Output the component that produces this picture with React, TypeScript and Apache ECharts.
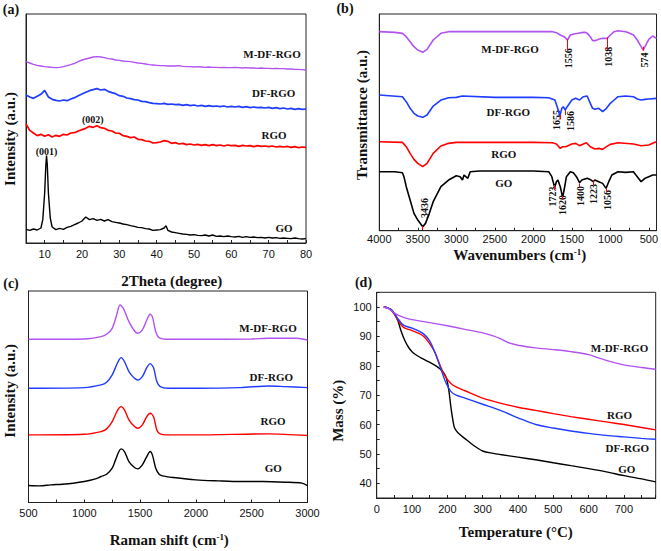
import React, { useEffect, useRef } from 'react';
import * as echarts from 'echarts';

// ---------- (a) XRD ----------
const XRD_X = [5,6,7,8,9,10,11,12,13,14,15,16,17,18,19,20,21,22,23,24,25,26,27,28,29,30,31,32,33,34,35,36,37,38,39,40,41,42,43,44,45,46,47,48,49,50,51,52,53,54,55,56,57,58,59,60,61,62,63,64,65,66,67,68,69,70,71,72,73,74,75,76,77,78,79,80];
const XRD_GO: [number, number][] = [[5,41],[6,38],[7,42],[8,39],[9,45],[9.5,70],[10,150],[10.3,230],[10.5,262],[10.7,235],[11,150],[11.5,75],[12,48],[13,40],[14,44],[15,41],[16,47],[17,50],[18,55],[19,60],[20,66],[21,78],[22,70],[23,73],[24,68],[25,71],[26,66],[27,70],[28,64],[29,62],[30,60],[31,57],[32,55],[33,52],[34,50],[35,47],[36,46],[37,43],[38,42],[39,38],[40,39],[41,40],[42,45],[42.5,52],[43,38],[44,33],[45,31],[46,29],[47,27],[48,26],[49,24],[50,25],[51,23],[52,22],[53,24],[54,21],[55,24],[56,20],[57,21],[58,19],[59,21],[60,19],[61,18],[62,20],[63,17],[64,19],[65,17],[66,18],[67,16],[68,17],[69,15],[70,17],[71,15],[72,16],[73,14],[74,15],[75,14],[76,13],[77,15],[78,13],[79,12],[80,13]];
const XRD_RGO = [357,338,330,322,326,320,325,318,323,320,326,324,330,331,336,340,344,350,347,352,346,344,338,336,330,329,322,320,316,318,311,310,306,305,300,301,303,307,305,299,301,297,299,295,297,294,296,293,295,292,295,292,294,291,294,292,293,290,293,291,292,289,292,290,291,289,291,288,290,288,290,287,289,286,288,287];
const XRD_DFRGO = [444,438,434,440,446,458,438,431,428,426,429,427,432,436,442,447,452,457,460,463,459,461,455,451,448,442,440,435,433,430,429,425,424,421,419,418,417,419,416,417,415,416,413,415,412,414,411,413,410,412,410,411,409,411,408,410,408,410,407,409,406,408,406,407,405,407,404,406,403,405,402,404,401,403,401,402];
const XRD_MDFRGO = [544,540,536,533,531,529,528,527,526,527,529,532,535,539,544,549,552,555,558,559,558,556,553,552,549,548,546,545,544,542,540,539,537,535,534,533,532,532,531,531,531,532,530,529,529,528,529,528,527,528,527,527,526,527,526,526,527,526,525,526,525,525,524,525,524,524,523,524,523,523,522,522,521,521,520,519];

// ---------- (b) FTIR (wavenumber, transmittance a.u.) ----------
const FTIR_GO: [number, number][] = [[4000,177],[3800,177],[3700,174],[3680,162],[3650,132],[3600,92],[3550,52],[3500,32],[3436,12],[3400,22],[3350,52],[3300,87],[3200,132],[3100,152],[3000,165],[2950,162],[2920,152],[2900,167],[2850,157],[2820,177],[2700,179],[2500,179],[2000,179],[1800,177],[1760,162],[1723,130],[1700,147],[1680,152],[1650,132],[1620,100],[1600,122],[1570,162],[1520,177],[1480,174],[1440,162],[1400,144],[1370,152],[1300,157],[1250,152],[1223,147],[1200,152],[1150,147],[1100,142],[1056,127],[1020,147],[980,167],[900,177],[800,175],[700,177],[650,162],[600,147],[550,157],[500,162],[450,167],[400,167]];
const FTIR_RGO: [number, number][] = [[4000,267],[3700,265],[3650,252],[3600,232],[3550,214],[3500,202],[3436,192],[3380,202],[3300,232],[3200,254],[3100,262],[3000,265],[2000,265],[1750,264],[1700,260],[1650,247],[1620,252],[1580,252],[1550,255],[1500,260],[1450,262],[1400,255],[1350,260],[1310,264],[1260,252],[1200,245],[1150,247],[1100,244],[1050,252],[1000,259],[900,264],[700,260],[600,255],[500,257],[450,262],[400,267]];
const FTIR_DFRGO: [number, number][] = [[4000,407],[3700,402],[3650,387],[3600,367],[3550,352],[3500,344],[3436,340],[3380,347],[3300,374],[3200,392],[3100,399],[3000,400],[2920,404],[2500,400],[2000,400],[1800,399],[1720,392],[1690,372],[1670,357],[1655,344],[1630,367],[1610,372],[1586,362],[1560,372],[1500,392],[1450,397],[1400,392],[1350,402],[1300,404],[1260,382],[1230,367],[1200,364],[1150,367],[1100,357],[1050,367],[1000,382],[950,392],[900,402],[800,404],[700,402],[650,395],[600,392],[550,394],[500,395],[400,397]];
const FTIR_MDFRGO: [number, number][] = [[4000,597],[3800,595],[3700,592],[3650,582],[3600,567],[3550,552],[3500,542],[3436,535],[3380,544],[3300,572],[3200,592],[3100,597],[2000,597],[1750,597],[1700,594],[1650,587],[1600,582],[1556,572],[1520,587],[1470,590],[1420,592],[1380,594],[1330,595],[1300,592],[1260,582],[1230,570],[1200,570],[1150,574],[1100,577],[1038,577],[1000,587],[950,597],[900,600],[800,597],[750,592],[700,587],[650,572],[600,552],[574,542],[550,552],[500,574],[450,584],[400,577]];
// peak markers: [wavenumber, from, to]
const MARK_GO = [[3436,14,2],[1723,137,122],[1620,104,94],[1400,142,130],[1223,152,137],[1056,127,117]];
const MARK_DFRGO = [[1655,347,334],[1586,362,347]];
const MARK_MDFRGO = [[1556,574,542],[1038,580,542],[574,552,540]];
const PEAK_LABELS = [
  { t: '3436', x: 424.3, y: 208 }, { t: '1723', x: 552.7, y: 196.5 }, { t: '1620', x: 562.5, y: 205 },
  { t: '1400', x: 580.7, y: 196 }, { t: '1223', x: 593.3, y: 194 }, { t: '1056', x: 607.7, y: 200 },
  { t: '1655', x: 556, y: 120 }, { t: '1586', x: 570, y: 121 },
  { t: '1556', x: 568.7, y: 58.3 }, { t: '1038', x: 608.7, y: 56.7 }, { t: '574', x: 644.7, y: 60 },
];

// ---------- (c) Raman ----------
const RAMAN_GO: [number, number][] = [[500,51],[600,50],[700,53],[800,55],[900,58],[1000,63],[1100,71],[1150,78],[1200,85],[1250,103],[1280,128],[1310,153],[1330,161],[1360,153],[1400,123],[1450,105],[1480,101],[1520,113],[1560,138],[1590,153],[1610,143],[1640,103],[1670,85],[1700,80],[1800,75],[2000,68],[2200,65],[2400,63],[2600,63],[2800,61],[2950,58],[3000,51]];
const RAMAN_RGO: [number, number][] = [[500,203],[1000,205],[1150,213],[1200,221],[1250,243],[1300,278],[1330,288],[1360,278],[1400,248],[1450,228],[1480,223],[1520,233],[1560,258],[1590,268],[1620,258],[1650,218],[1680,206],[1750,203],[2000,203],[2650,206],[3000,201]];
const RAMAN_DFRGO: [number, number][] = [[500,343],[1000,345],[1150,353],[1200,361],[1250,383],[1300,421],[1330,435],[1360,423],[1400,393],[1450,373],[1480,368],[1520,378],[1560,405],[1590,417],[1620,405],[1650,363],[1680,348],[1750,343],[2000,343],[2400,345],[2650,350],[2800,348],[3000,345]];
const RAMAN_MDFRGO: [number, number][] = [[500,490],[1000,491],[1150,498],[1200,505],[1250,523],[1290,563],[1320,593],[1350,583],[1400,543],[1450,515],[1480,508],[1520,518],[1560,548],[1590,565],[1610,558],[1640,513],[1670,495],[1750,490],[2000,490],[2500,491],[2650,493],[2900,493],[3000,488]];

// ---------- (d) TGA ----------
const TGA_GO: [number, number][] = [[20,100],[30,99.8],[40,99.2],[50,97.8],[60,95.3],[70,91.5],[80,88.5],[90,86.3],[100,84.8],[115,83.4],[130,82.4],[150,81.2],[170,79.8],[185,78.3],[195,76.5],[200,74.5],[205,71],[210,66],[215,62],[220,59],[230,57.2],[250,55.2],[270,53.3],[300,51],[330,50.2],[350,49.8],[400,48.9],[450,48],[500,47],[550,46],[600,45],[650,43.9],[700,42.6],[750,41.5],[790,40.5]];
const TGA_RGO: [number, number][] = [[20,100],[30,99.7],[40,99],[50,97.5],[60,95.5],[70,93.8],[80,92.8],[100,92],[120,91],[135,89.8],[150,87.5],[165,84.5],[180,80],[195,76.2],[210,74],[225,72.8],[250,71.5],[300,69],[350,67.3],[400,65.9],[450,64.8],[500,63.7],[550,62.7],[600,61.8],[650,60.9],[700,60],[750,59],[790,58.2]];
const TGA_DFRGO: [number, number][] = [[20,100],[30,99.7],[40,99.1],[50,97.8],[60,96],[70,94.5],[80,93.6],[100,92.8],[120,91.8],[135,90.6],[150,88.5],[165,84.5],[180,79.5],[195,74.5],[210,71.3],[225,70],[250,69],[300,66.9],[350,64.8],[400,62.3],[450,60],[500,58.8],[550,57.8],[600,57],[650,56.3],[700,55.8],[750,55.3],[790,55]];
const TGA_MDFRGO: [number, number][] = [[20,100],[30,99.6],[40,98.9],[50,98],[60,97.2],[80,96.3],[100,95.7],[150,94.7],[200,93.6],[250,92.4],[300,91.2],[330,90.2],[350,89.2],[370,88],[400,87],[450,86.1],[500,85.5],[550,84.8],[600,83.8],[630,82.6],[660,81.5],[700,80.3],[750,79.4],[790,78.8]];

const C_GO = '#000000';
const C_RGO = '#ff0000';
const C_DF = '#1f3cff';
const C_MDF = '#b252f0';
const SERIF = '"Liberation Serif", "Times New Roman", serif';
const SANS = '"Liberation Sans", Arial, sans-serif';

function txt(x: number, y: number, text: string, size: number, rot = 0) {
  return {
    type: 'text', x, y, rotation: rot, silent: true,
    style: { text, fontFamily: SERIF, fontWeight: 'bold', fontSize: size, fill: '#111',
      align: 'center', verticalAlign: 'middle', textAlign: 'center', textVerticalAlign: 'middle' },
  };
}
function richTxt(x: number, y: number, pre: string, size: number) {
  return {
    type: 'text', x, y, silent: true,
    style: {
      text: `{a|${pre} (cm}{b|-1}{a|)}`,
      align: 'center', verticalAlign: 'middle', textAlign: 'center', textVerticalAlign: 'middle',
      rich: {
        a: { fontFamily: SERIF, fontWeight: 'bold', fontSize: size, fill: '#111', lineHeight: 15, verticalAlign: 'bottom' },
        b: { fontFamily: SERIF, fontWeight: 'bold', fontSize: 9, fill: '#111', lineHeight: 15, verticalAlign: 'top' },
      },
    },
  };
}

function line(name: string, data: any, color: string, gi: number, w = 1.4, extra: any = {}) {
  return { name, type: 'line', xAxisIndex: gi, yAxisIndex: gi, data, showSymbol: false, symbol: 'none',
    lineStyle: { color, width: w }, itemStyle: { color }, silent: true, z: 3, ...extra };
}
// FTIR x-axis runs on negated wavenumber so that it decreases to the right
const neg = (d: [number, number][]) => d.map(([w, v]) => [-w, v]);
function marks(list: number[][]) {
  return {
    silent: true, symbol: 'none', label: { show: false },
    lineStyle: { color: '#ff0000', width: 1, type: 'solid' },
    data: list.map(([w, a, b]) => [{ coord: [-w, a] }, { coord: [-w, b] }]),
  };
}

const axisBase = {
  axisLine: { show: true, lineStyle: { color: '#222', width: 1 } },
  axisTick: { show: true, inside: true, length: 3, lineStyle: { color: '#222' } },
  splitLine: { show: false },
  axisLabel: { color: '#111', fontFamily: SANS, fontSize: 11, margin: 5 },
};

export default function App() {
  const ref = useRef<HTMLDivElement>(null);
  useEffect(() => {
    if (!ref.current) return;
    const chart = echarts.init(ref.current, undefined, { renderer: 'svg' });
    const grid = (left: number, top: number, width: number, height: number) => ({
      left, top, width, height, show: true, borderColor: '#222', borderWidth: 1, backgroundColor: 'transparent', containLabel: false,
    });
    const noY = { ...axisBase, axisTick: { show: false }, axisLabel: { show: false } };
    const option: any = {
      animation: false,
      backgroundColor: '#fff',
      grid: [grid(26, 14, 280, 229), grid(379.3, 14, 278.7, 216.7), grid(28.5, 291, 279, 211.5), grid(376.7, 292.3, 279, 205.7)],
      xAxis: [
        { ...axisBase, gridIndex: 0, type: 'value', min: 5, max: 80, interval: 5,
          axisLabel: { ...axisBase.axisLabel, formatter: (v: number) => (v % 10 === 0 ? String(v) : '') } },
        { ...axisBase, gridIndex: 1, type: 'value', min: -4000, max: -400, interval: 250,
          axisLabel: { ...axisBase.axisLabel, margin: 3, formatter: (v: number) => (Math.abs(v) % 500 === 0 ? String(-v) : '') } },
        { ...axisBase, gridIndex: 2, type: 'value', min: 500, max: 3000, interval: 250,
          axisLabel: { ...axisBase.axisLabel, formatter: (v: number) => (v % 500 === 0 ? String(v) : '') } },
        { ...axisBase, gridIndex: 3, type: 'value', min: 0, max: 790, interval: 50,
          axisLabel: { ...axisBase.axisLabel, formatter: (v: number) => (v % 100 === 0 ? String(v) : '') } },
      ],
      yAxis: [
        { ...noY, gridIndex: 0, type: 'value', min: 0, max: 687 },
        { ...noY, gridIndex: 1, type: 'value', min: 0, max: 650 },
        { ...noY, gridIndex: 2, type: 'value', min: 0, max: 635 },
        { ...axisBase, gridIndex: 3, type: 'value', min: 35, max: 105, interval: 5,
          axisLabel: { ...axisBase.axisLabel, formatter: (v: number) => (v % 10 === 0 ? String(v) : '') } },
      ],
      series: [
        line('GO', XRD_GO, C_GO, 0, 1.4),
        line('RGO', XRD_X.map((x, i) => [x, XRD_RGO[i]]), C_RGO, 0, 1.7),
        line('DF-RGO', XRD_X.map((x, i) => [x, XRD_DFRGO[i]]), C_DF, 0, 1.7),
        line('M-DF-RGO', XRD_X.map((x, i) => [x, XRD_MDFRGO[i]]), C_MDF, 0, 1.4),

        line('GO', neg(FTIR_GO), C_GO, 1, 1.6, { markLine: marks(MARK_GO) }),
        line('RGO', neg(FTIR_RGO), C_RGO, 1, 1.6),
        line('DF-RGO', neg(FTIR_DFRGO), C_DF, 1, 1.6, { markLine: marks(MARK_DFRGO) }),
        line('M-DF-RGO', neg(FTIR_MDFRGO), C_MDF, 1, 1.6, { markLine: marks(MARK_MDFRGO) }),

        line('GO', RAMAN_GO, C_GO, 2, 1.4, { smooth: 0.3 }),
        line('RGO', RAMAN_RGO, C_RGO, 2, 1.4, { smooth: 0.3 }),
        line('DF-RGO', RAMAN_DFRGO, C_DF, 2, 1.4, { smooth: 0.3 }),
        line('M-DF-RGO', RAMAN_MDFRGO, C_MDF, 2, 1.4, { smooth: 0.3 }),

        line('GO', TGA_GO, C_GO, 3, 1.4, { smooth: 0.3 }),
        line('RGO', TGA_RGO, C_RGO, 3, 1.4, { smooth: 0.3 }),
        line('DF-RGO', TGA_DFRGO, C_DF, 3, 1.4, { smooth: 0.3 }),
        line('M-DF-RGO', TGA_MDFRGO, C_MDF, 3, 1.4, { smooth: 0.3 }),
      ],
      graphic: [
        txt(11, 9, '(a)', 14), txt(345, 8, '(b)', 14), txt(11, 283, '(c)', 14), txt(363.5, 282.5, '(d)', 14),
        // (a)
        txt(272, 54, 'M-DF-RGO', 11), txt(273.7, 93.3, 'DF-RGO', 11), txt(274, 135, 'RGO', 11), txt(284, 227.7, 'GO', 11),
        txt(46.5, 151.7, '(001)', 10), txt(92.8, 119, '(002)', 10),
        txt(9.5, 139, 'Intensity (a.u.)', 15, Math.PI / 2), txt(171.7, 280.8, '2Theta (degree)', 15),
        // (b)
        txt(510, 49.3, 'M-DF-RGO', 11), txt(508.3, 111.7, 'DF-RGO', 11), txt(503.8, 154, 'RGO', 11), txt(503.8, 182.7, 'GO', 11),
        ...PEAK_LABELS.map((p) => txt(p.x, p.y, p.t, 10, Math.PI / 2)),
        txt(361.7, 115, 'Transmittance (a.u.)', 15, Math.PI / 2), richTxt(519.7, 255, 'Wavenumbers', 15),
        // (c)
        txt(268, 328.3, 'M-DF-RGO', 11), txt(271.3, 376.7, 'DF-RGO', 11), txt(273, 420.7, 'RGO', 11), txt(273.3, 467.7, 'GO', 11),
        txt(10, 390.8, 'Intensity (a.u.)', 15, Math.PI / 2), richTxt(169.3, 540, 'Raman shift', 15),
        // (d)
        txt(619.5, 347.7, 'M-DF-RGO', 11), txt(619.5, 415, 'RGO', 11), txt(627.3, 447.7, 'DF-RGO', 11), txt(626.7, 469, 'GO', 11),
        txt(337.5, 410.8, 'Mass (%)', 15, Math.PI / 2), txt(515.8, 531.7, 'Temperature (\u00B0C)', 15),
      ],
    };
    chart.setOption(option);
    return () => chart.dispose();
  }, []);
  return <div ref={ref} style={{ position: 'absolute', left: 0, top: 0, width: 661, height: 551 }} />;
}
